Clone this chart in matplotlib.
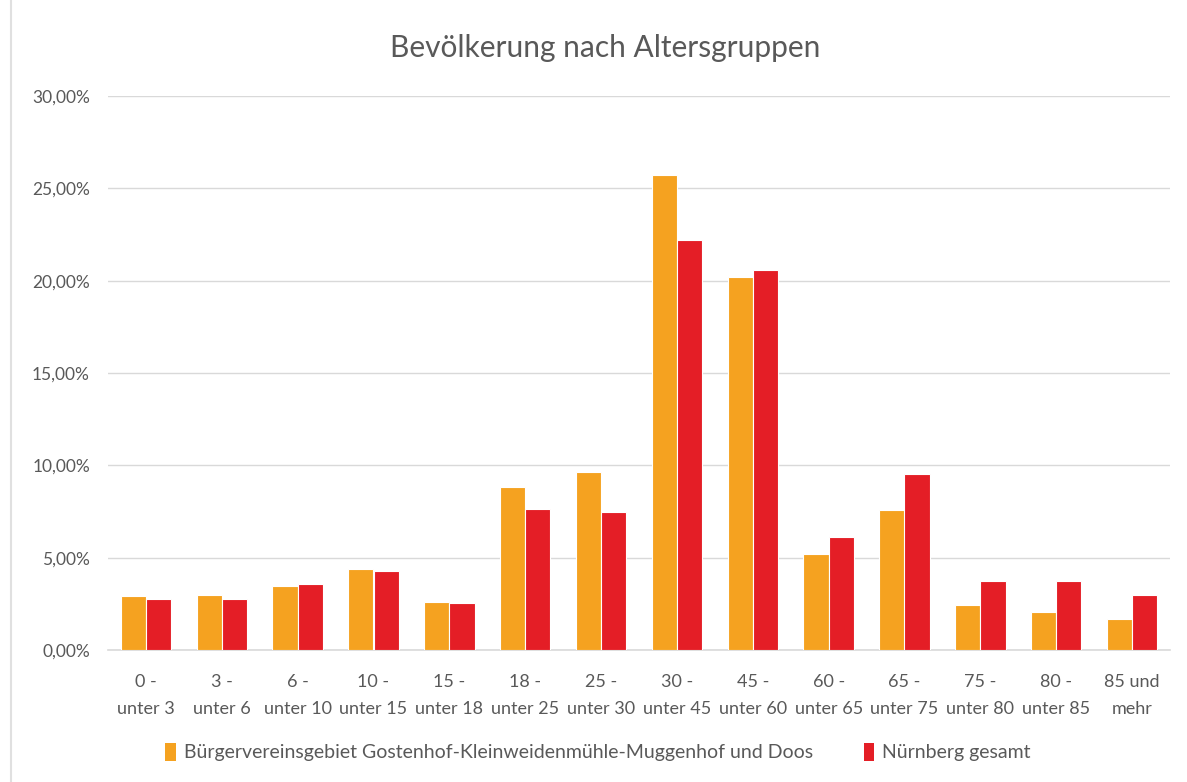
import matplotlib
matplotlib.use('Agg')
import matplotlib.pyplot as plt
from matplotlib.lines import Line2D
from matplotlib.patches import Patch
from matplotlib.ticker import FuncFormatter
import numpy as np

plt.rcParams['font.family'] = ['Lato', 'DejaVu Sans']

categories = ['0 -\nunter 3', '3 -\nunter 6', '6 -\nunter 10', '10 -\nunter 15',
              '15 -\nunter 18', '18 -\nunter 25', '25 -\nunter 30', '30 -\nunter 45',
              '45 -\nunter 60', '60 -\nunter 65', '65 -\nunter 75', '75 -\nunter 80',
              '80 -\nunter 85', '85 und\nmehr']
gostenhof = [2.91, 3.00, 3.48, 4.40, 2.60, 8.82, 9.64, 25.74, 20.22, 5.20, 7.57, 2.46, 2.06, 1.67]
nuernberg = [2.77, 2.77, 3.55, 4.26, 2.53, 7.63, 7.46, 22.19, 20.56, 6.10, 9.53, 3.71, 3.71, 3.00]
series_names = ['Bürgervereinsgebiet Gostenhof-Kleinweidenmühle-Muggenhof und Doos',
                'Nürnberg gesamt']

ORANGE = '#f5a220'
RED = '#e41e26'
TEXT = '#595959'
GRID = '#d9d9d9'

fig = plt.figure(figsize=(11.87, 7.82), dpi=100)
ax = fig.add_axes([108 / 1187, 132 / 782, 1062 / 1187, 554 / 782])

x = np.arange(len(categories))
w = 0.333
ax.bar(x - w / 2, gostenhof, width=w, color=ORANGE, edgecolor='white', linewidth=0.8, zorder=3)
ax.bar(x + w / 2, nuernberg, width=w, color=RED, edgecolor='white', linewidth=0.8, zorder=3)

ax.set_xlim(-0.5, len(categories) - 0.5)
ax.set_ylim(0, 30)
ax.set_yticks(np.arange(0, 31, 5))
ax.yaxis.set_major_formatter(FuncFormatter(lambda v, p: f'{v:.2f}%'.replace('.', ',')))
ax.set_xticks(x)
ax.set_xticklabels(categories, linespacing=1.85)

ax.grid(axis='y', color=GRID, linewidth=1, zorder=0)
for s in ['top', 'right', 'left']:
    ax.spines[s].set_visible(False)
ax.spines['bottom'].set_color(GRID)
ax.spines['bottom'].set_linewidth(1.2)
ax.tick_params(axis='both', length=0, colors=TEXT, labelsize=12.5)
ax.tick_params(axis='x', labelsize=13)
ax.tick_params(axis='y', pad=13)
ax.tick_params(axis='x', pad=17)

fig.text(605 / 1187, 1 - 48 / 782, 'Bevölkerung nach Altersgruppen',
         ha='center', va='center', fontsize=21.5, color=TEXT)

handles = [Patch(facecolor=ORANGE), Patch(facecolor=RED)]
fig.legend(handles, series_names, loc='center', bbox_to_anchor=(598 / 1187, 1 - 752 / 782),
           ncol=2, frameon=False, fontsize=14, labelcolor=TEXT, handlelength=0.55,
           handleheight=1.1, handletextpad=0.4, columnspacing=2.6)

fig.add_artist(Line2D([11 / 1187, 11 / 1187], [0, 1], color='#e0e0e0', linewidth=1.5))

fig.savefig('out.png', dpi=100)
